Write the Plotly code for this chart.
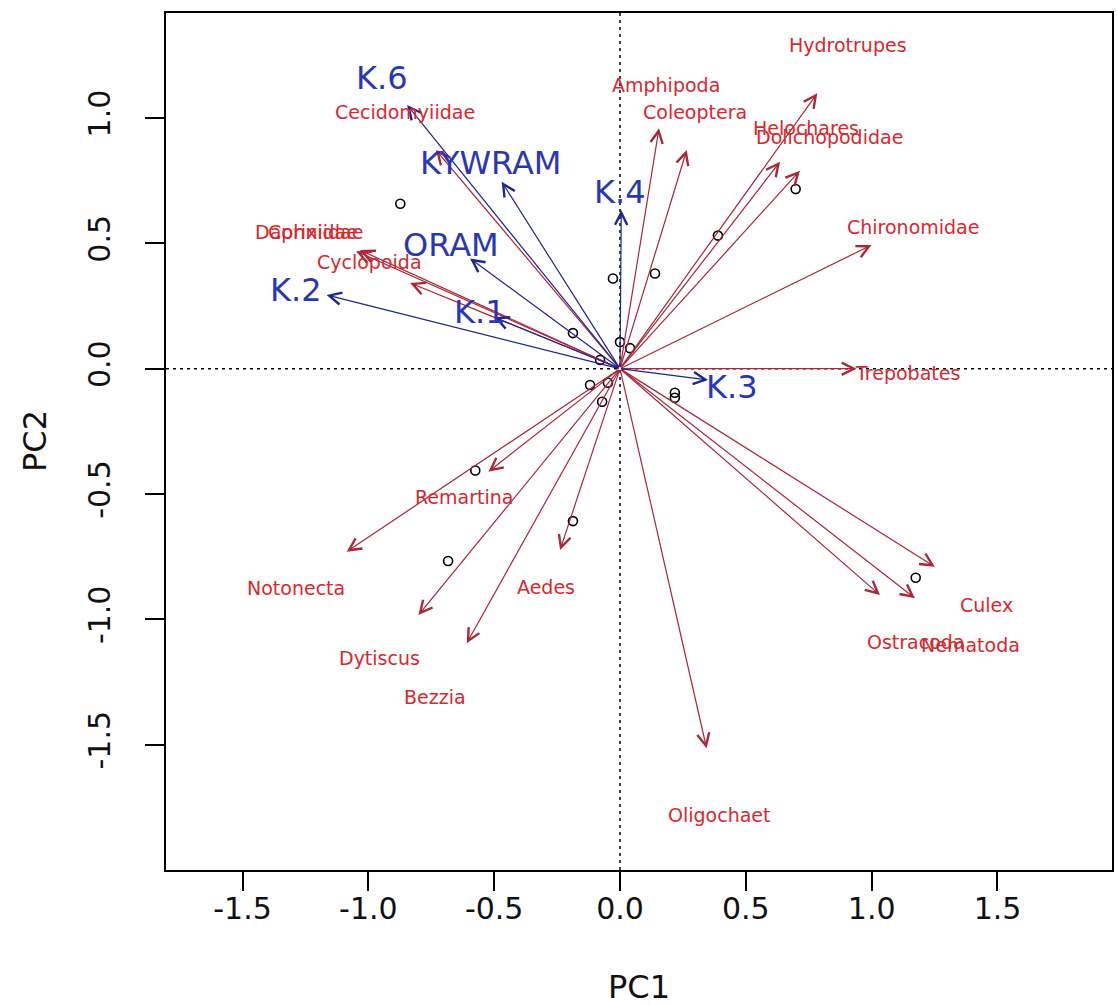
import plotly.graph_objects as go

# ---- site scores (points) ----
site_x = [-0.873, -0.028, 0.139, 0.389, 0.698, -0.187, -0.079, 0.000, 0.040,
          -0.119, -0.048, -0.071, 0.218, 0.218, -0.575, -0.187, -0.683, 1.175]
site_y = [0.658, 0.360, 0.380, 0.531, 0.717, 0.142, 0.035, 0.106, 0.082,
          -0.065, -0.056, -0.132, -0.096, -0.116, -0.406, -0.608, -0.767, -0.834]

# ---- taxa loadings (red arrows) ----
taxa = ["Hydrotrupes", "Amphipoda", "Coleoptera", "Helochares", "Dolichopodidae",
        "Chironomidae", "Trepobates", "Culex", "Nematoda", "Ostracoda",
        "Oligochaet", "Aedes", "Bezzia", "Dytiscus", "Notonecta", "Remartina",
        "Cyclopoida", "Daphniidae", "Corixidae", "Cecidomyiidae"]
taxa_x = [0.784, 0.155, 0.265, 0.636, 0.715, 0.999, 0.940, 1.251, 1.172, 1.033,
          0.344, -0.238, -0.609, -0.801, -1.086, -0.523, -0.834, -1.049, -1.033, -0.731]
taxa_y = [1.099, 0.959, 0.872, 0.826, 0.790, 0.493, 0.000, -0.790, -0.916, -0.903,
          -1.514, -0.723, -1.095, -0.983, -0.730, -0.411, 0.342, 0.469, 0.473, 0.872]
taxa_lab_x = [0.906, 0.183, 0.298, 0.739, 0.834, 1.164, 1.142, 1.458, 1.391, 1.176,
              0.393, -0.294, -0.735, -0.954, -1.287, -0.620, -0.997, -1.236, -1.220, -0.854]
taxa_lab_y = [1.291, 1.132, 1.025, 0.959, 0.925, 0.566, -0.018, -0.943, -1.102, -1.089,
              -1.780, -0.870, -1.308, -1.155, -0.876, -0.511, 0.426, 0.545, 0.545, 1.025]

# ---- environmental vectors (blue arrows) ----
env = ["K.6", "KYWRAM", "ORAM", "K.2", "K.1", "K.4", "K.3"]
env_x = [-0.846, -0.470, -0.596, -1.166, -0.500, 0.005, 0.350]
env_y = [1.052, 0.746, 0.440, 0.294, 0.205, 0.633, -0.045]
env_lab_x = [-0.946, -0.516, -0.673, -1.287, -0.556, 0.000, 0.445]
env_lab_y = [1.158, 0.819, 0.493, 0.314, 0.227, 0.706, -0.072]

x_ticks = [-1.5, -1.0, -0.5, 0.0, 0.5, 1.0, 1.5]
y_ticks = [-1.5, -1.0, -0.5, 0.0, 0.5, 1.0]
x_range = [-1.804, 1.955]
y_range = [-2.0, 1.419]

FONT = "DejaVu Sans"
RED_LINE = "#aa2638"
RED_TEXT = "#d8282e"
BLUE_LINE = "#1e2590"
BLUE_TEXT = "#2a37b5"

fig = go.Figure()
fig.add_trace(go.Scatter(
    x=site_x, y=site_y, mode="markers",
    marker=dict(symbol="circle-open", size=9, color="black", line=dict(width=1.6, color="black")),
    showlegend=False, hoverinfo="skip"))

annotations = []
for xv, yv in zip(taxa_x, taxa_y):
    annotations.append(dict(x=xv, y=yv, ax=0, ay=0, xref="x", yref="y", axref="x", ayref="y",
                            text="", showarrow=True, arrowhead=5, arrowsize=2.0,
                            arrowwidth=1.2, arrowcolor=RED_LINE, standoff=0, startstandoff=0))
for xv, yv in zip(env_x, env_y):
    annotations.append(dict(x=xv, y=yv, ax=0, ay=0, xref="x", yref="y", axref="x", ayref="y",
                            text="", showarrow=True, arrowhead=5, arrowsize=2.0,
                            arrowwidth=1.2, arrowcolor=BLUE_LINE, standoff=0, startstandoff=0))
for name, xv, yv in zip(taxa, taxa_lab_x, taxa_lab_y):
    annotations.append(dict(x=xv, y=yv, xref="x", yref="y", text=name, showarrow=False,
                            xanchor="center", yanchor="middle",
                            font=dict(family=FONT, size=19, color=RED_TEXT)))
for name, xv, yv in zip(env, env_lab_x, env_lab_y):
    annotations.append(dict(x=xv, y=yv, xref="x", yref="y", text=name, showarrow=False,
                            xanchor="center", yanchor="middle",
                            font=dict(family=FONT, size=32, color=BLUE_TEXT)))
# axis titles
annotations.append(dict(x=0.5, y=-0.137, xref="paper", yref="paper", text="PC1", showarrow=False,
                        xanchor="center", yanchor="middle", font=dict(family=FONT, size=32, color="#111")))
annotations.append(dict(x=-0.139, y=0.5, xref="paper", yref="paper", text="PC2", showarrow=False,
                        textangle=-90, xanchor="center", yanchor="middle",
                        font=dict(family=FONT, size=32, color="#111")))

shapes = [
    dict(type="line", xref="x", yref="paper", x0=0, x1=0, y0=0, y1=1, layer="below",
         line=dict(color="black", width=1.5, dash="3px,4px")),
    dict(type="line", xref="paper", yref="y", x0=0, x1=1, y0=0, y1=0, layer="below",
         line=dict(color="black", width=1.5, dash="3px,4px")),
]

axis_common = dict(showgrid=False, zeroline=False, showline=True, mirror=True,
                   linecolor="black", linewidth=1.5, ticks="outside", ticklen=19,
                   tickwidth=1.5, tickcolor="black", automargin=False,
                   tickfont=dict(family=FONT, size=30, color="#111"))

fig.update_layout(
    width=1117, height=1006,
    margin=dict(l=166, r=5, t=13, b=136),
    paper_bgcolor="white", plot_bgcolor="white",
    xaxis=dict(range=x_range, tickvals=x_ticks, ticktext=[f"{v:.1f}" for v in x_ticks],
               ticklabelstandoff=-8, **axis_common),
    yaxis=dict(range=y_range, tickvals=y_ticks, ticktext=[f"{v:.1f}" for v in y_ticks],
               tickangle=-90, ticklabelstandoff=23, **axis_common),
    annotations=annotations, shapes=shapes, showlegend=False,
)

fig.write_html("out.html", config={"displayModeBar": False},
               post_script="document.body.style.margin='0';document.body.style.overflow='hidden';")
